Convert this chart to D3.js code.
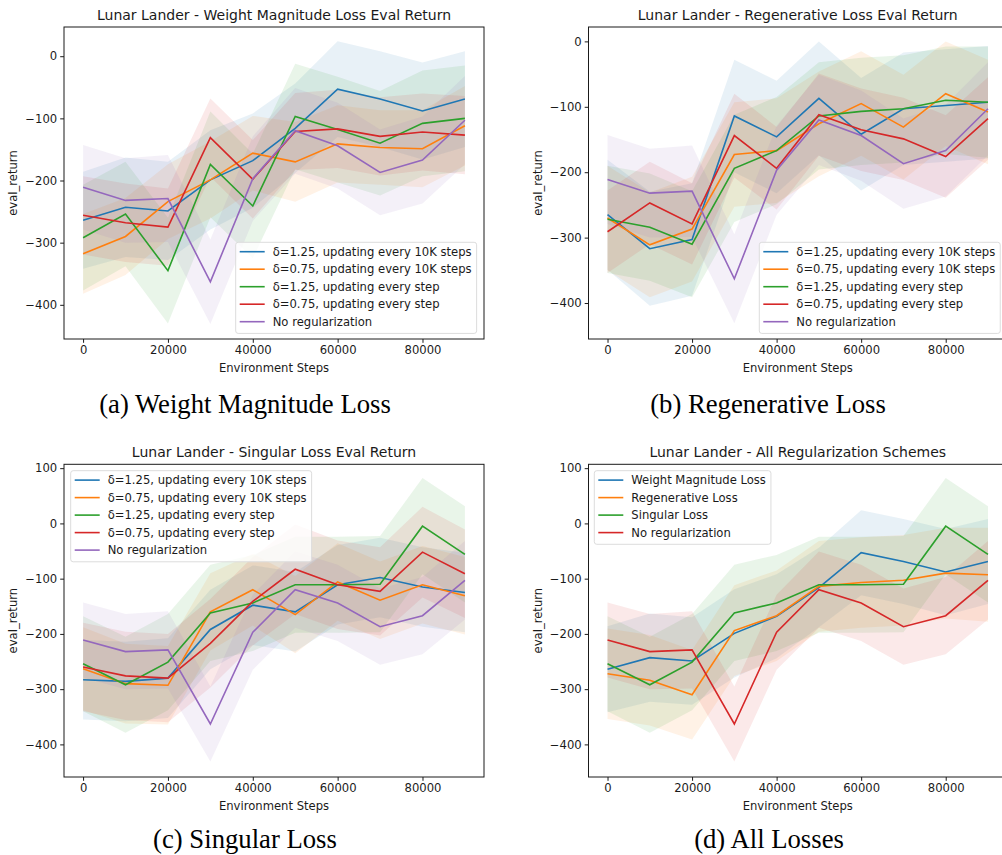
<!DOCTYPE html>
<html lang="en">
<head>
<meta charset="utf-8">
<title>Lunar Lander - regularization</title>
<script src="https://cdn.jsdelivr.net/npm/d3@7"></script>
<style>
  body { margin: 0; background: #fff; }
  svg { display: block; font-family: "DejaVu Sans", sans-serif; }
  .tick text { font-size: 11.6px; fill: #1a1a1a; }
  .tick line { stroke: #1a1a1a; }
  .title { font-size: 14px; fill: #1a1a1a; }
  .label { font-size: 11.6px; fill: #1a1a1a; }
  .legend text { font-size: 11.6px; fill: #1a1a1a; }
  .caption { font-family: "Liberation Serif", "DejaVu Serif", serif; font-size: 26.7px; fill: #000; }
</style>
</head>
<body>
<svg id="fig" width="1002" height="855"></svg>
<script>
// environment steps (x)
var steps = [0, 10000, 20000, 30000, 40000, 50000, 60000, 70000, 80000, 90000];

// no regularization (shared by every panel)
var noReg    = [-211, -232, -229, -363, -197, -120, -144, -187, -167, -103];
var noRegStd = [68, 68, 70, 68, 68, 69, 69, 69, 70, 71];

// (a) weight magnitude loss
var wm125k    = [-264, -243, -249, -199, -168, -116, -53, -69, -88, -69];
var wm125kStd = [78, 80, 79, 80, 76, 72, 77, 77, 78, 77];
var wm075k    = [-318, -290, -234, -199, -156, -170, -141, -147, -149, -112];
var wm075kStd = [64, 62, 60, 62, 60, 64, 62, 60, 62, 64];
var wm125s    = [-292, -254, -345, -174, -241, -97, -118, -140, -108, -100];
var wm125sStd = [85, 84, 85, 85, 84, 85, 85, 84, 85, 85];
var wm075s    = [-256, -268, -275, -131, -198, -121, -117, -129, -122, -127];
var wm075sStd = [63, 63, 62, 63, 63, 62, 63, 63, 62, 63];

// (b) regenerative loss
var rg125k    = [-265, -317, -303, -114, -146, -87, -142, -103, -98, -93];
var rg125kStd = [84, 87, 86, 86, 86, 87, 86, 86, 86, 86];
var rg075k    = [-270, -311, -287, -173, -167, -126, -95, -131, -80, -108];
var rg075kStd = [80, 80, 80, 80, 80, 80, 80, 80, 80, 80];
var rg125s    = [-272, -284, -310, -194, -167, -114, -107, -103, -90, -93];
var rg125sStd = [82, 82, 81, 82, 82, 82, 82, 82, 82, 85];
var rg075s    = [-291, -247, -279, -144, -194, -112, -135, -149, -176, -118];
var rg075sStd = [63, 63, 62, 64, 63, 63, 63, 63, 63, 63];

// (c) singular loss
var sg125k    = [-283, -286, -280, -192, -148, -160, -111, -98, -115, -125];
var sg125kStd = [72, 72, 72, 72, 72, 72, 72, 72, 72, 72];
var sg075k    = [-263, -290, -293, -160, -120, -165, -106, -139, -111, -131];
var sg075kStd = [75, 72, 71, 70, 65, 70, 70, 70, 70, 70];
var sg125s    = [-254, -292, -251, -162, -144, -111, -111, -110, -5, -56];
var sg125sStd = [86, 87, 87, 87, 87, 87, 87, 87, 87, 87];
var sg075s    = [-260, -276, -280, -217, -141, -83, -111, -123, -52, -91];
var sg075sStd = [80, 80, 80, 80, 80, 81, 80, 80, 82, 80];

var legendA = ["δ=1.25, updating every 10K steps", "δ=0.75, updating every 10K steps",
               "δ=1.25, updating every step", "δ=0.75, updating every step", "No regularization"];
var legendD = ["Weight Magnitude Loss", "Regenerative Loss", "Singular Loss", "No regularization"];
var colors = ["#1f77b4", "#ff7f0e", "#2ca02c", "#d62728", "#9467bd"];

var xTicks = [0, 20000, 40000, 60000, 80000];
var yTicksTop = [-400, -300, -200, -100, 0];
var yTicksBottom = [-400, -300, -200, -100, 0, 100];

var panels = [
  { left: 64, right: 484, top: 27, bottom: 339, ydom: [-455, 47], yticks: yTicksTop,
    title: "Lunar Lander - Weight Magnitude Loss Eval Return", caption: "(a) Weight Magnitude Loss",
    capX: 245, capY: 413, legX: 235.7, legY: 242.3, names: legendA,
    series: [[wm125k, wm125kStd], [wm075k, wm075kStd], [wm125s, wm125sStd], [wm075s, wm075sStd], [noReg, noRegStd]] },
  { left: 588.5, right: 1007, top: 27, bottom: 339, ydom: [-455, 22], yticks: yTicksTop,
    title: "Lunar Lander - Regenerative Loss Eval Return", caption: "(b) Regenerative Loss",
    capX: 768, capY: 413, legX: 759.3, legY: 242.3, names: legendA,
    series: [[rg125k, rg125kStd], [rg075k, rg075kStd], [rg125s, rg125sStd], [rg075s, rg075sStd], [noReg, noRegStd]] },
  { left: 64, right: 484, top: 464.3, bottom: 777, ydom: [-459, 107], yticks: yTicksBottom,
    title: "Lunar Lander - Singular Loss Eval Return", caption: "(c) Singular Loss",
    capX: 245, capY: 848, legX: 70.7, legY: 470.7, names: legendA,
    series: [[sg125k, sg125kStd], [sg075k, sg075kStd], [sg125s, sg125sStd], [sg075s, sg075sStd], [noReg, noRegStd]] },
  { left: 588.5, right: 1007, top: 464.3, bottom: 777, ydom: [-459, 107], yticks: yTicksBottom,
    title: "Lunar Lander - All Regularization Schemes", caption: "(d) All Losses",
    capX: 769, capY: 848, legX: 594.3, legY: 470.7, names: legendD,
    series: [[wm125k, wm125kStd], [rg125s, rg125sStd], [sg125s, sg125sStd], [noReg, noRegStd]] }
];

var svg = d3.select("#fig");
var fmtY = function (d) { return d < 0 ? "\u2212" + Math.abs(d) : String(d); };

panels.forEach(function (p, pi) {
  var x = d3.scaleLinear().domain([-4500, 94500]).range([p.left, p.right]);
  var y = d3.scaleLinear().domain(p.ydom).range([p.bottom, p.top]);
  var g = svg.append("g");

  g.append("clipPath").attr("id", "clip" + pi)
    .append("rect").attr("x", p.left).attr("y", p.top)
    .attr("width", p.right - p.left).attr("height", p.bottom - p.top);

  var plot = g.append("g").attr("clip-path", "url(#clip" + pi + ")");

  // bands first
  p.series.forEach(function (s, i) {
    var area = d3.area()
      .x(function (d, j) { return x(steps[j]); })
      .y0(function (d, j) { return y(s[0][j] - s[1][j]); })
      .y1(function (d, j) { return y(s[0][j] + s[1][j]); });
    plot.append("path").datum(s[0]).attr("d", area)
      .attr("fill", colors[i]).attr("fill-opacity", 0.1);
  });
  // mean lines
  p.series.forEach(function (s, i) {
    var line = d3.line()
      .x(function (d, j) { return x(steps[j]); })
      .y(function (d) { return y(d); });
    plot.append("path").datum(s[0]).attr("d", line)
      .attr("fill", "none").attr("stroke", colors[i]).attr("stroke-width", 1.6);
  });

  // axes
  var ax = g.append("g").attr("transform", "translate(0," + p.bottom + ")")
    .call(d3.axisBottom(x).tickValues(xTicks).tickSize(3.8).tickPadding(3).tickFormat(d3.format("d")));
  ax.select(".domain").remove();

  var ay = g.append("g").attr("transform", "translate(" + p.left + ",0)")
    .call(d3.axisLeft(y).tickValues(p.yticks).tickSize(3.8).tickPadding(3).tickFormat(fmtY));
  ay.select(".domain").remove();
  ax.attr("font-family", null).attr("font-size", null);
  ay.attr("font-family", null).attr("font-size", null);

  g.append("rect").attr("x", p.left).attr("y", p.top)
    .attr("width", p.right - p.left).attr("height", p.bottom - p.top)
    .attr("fill", "none").attr("stroke", "#1a1a1a").attr("stroke-width", 1);

  g.append("text").attr("class", "title")
    .attr("x", (p.left + p.right) / 2).attr("y", p.top - 7)
    .attr("text-anchor", "middle").text(p.title);

  g.append("text").attr("class", "label")
    .attr("x", (p.left + p.right) / 2).attr("y", p.bottom + 33)
    .attr("text-anchor", "middle").text("Environment Steps");

  var cy = (p.top + p.bottom) / 2;
  g.append("text").attr("class", "label")
    .attr("transform", "translate(" + (p.left - 47) + "," + cy + ") rotate(-90)")
    .attr("text-anchor", "middle").text("eval_return");

  // legend
  var leg = g.append("g").attr("class", "legend");
  var box = leg.append("rect").attr("x", p.legX).attr("y", p.legY)
    .attr("rx", 2.5).attr("ry", 2.5)
    .attr("fill", "#fff").attr("fill-opacity", 0.8)
    .attr("stroke", "#dcdcdc").attr("stroke-width", 1);
  var maxW = 0;
  p.names.forEach(function (name, i) {
    var ry = p.legY + 9.4 + i * 17.5;
    leg.append("line").attr("x1", p.legX + 4).attr("x2", p.legX + 29)
      .attr("y1", ry).attr("y2", ry)
      .attr("stroke", colors[i]).attr("stroke-width", 1.6);
    var t = leg.append("text").attr("x", p.legX + 37).attr("y", ry + 4).text(name);
    maxW = Math.max(maxW, t.node().getComputedTextLength());
  });
  box.attr("width", 37 + maxW + 5).attr("height", p.names.length * 17.5 + 3.6);

  svg.append("text").attr("class", "caption")
    .attr("x", p.capX).attr("y", p.capY)
    .attr("text-anchor", "middle").text(p.caption);
});
</script>
</body>
</html>
